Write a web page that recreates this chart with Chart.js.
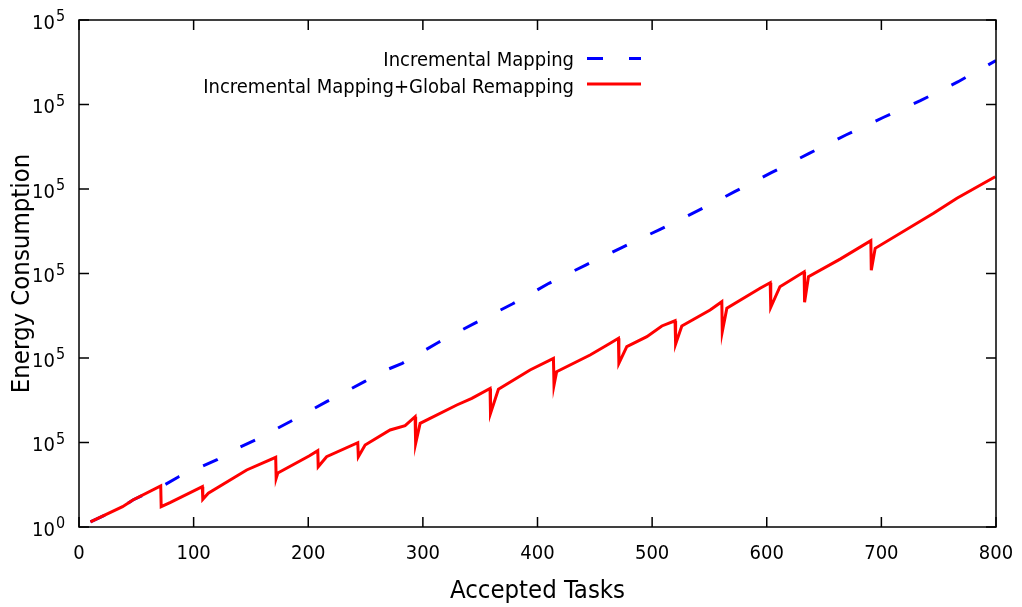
<!DOCTYPE html>
<html>
<head>
<meta charset="utf-8">
<title>Energy Consumption</title>
<script src="https://cdn.jsdelivr.net/npm/chart.js@4"></script>
<style>
  body { margin: 0; background: #fff; overflow: hidden; }
  #wrap { width: 1022px; height: 607px; }
</style>
</head>
<body>
<div id="wrap"><canvas id="myChart"></canvas></div>
<script>
// Data
const incTasks = [10, 38, 47, 71, 87, 108, 120, 140, 154, 184, 216, 249, 268, 282, 313, 345, 378, 410, 442, 474, 507, 540, 572, 604, 637, 669, 702, 734, 767, 800];
const incEnergy = [0.06, 0.24, 0.32, 0.47, 0.595, 0.722, 0.793, 0.943, 1.03, 1.246, 1.483, 1.72, 1.858, 1.937, 2.181, 2.41, 2.639, 2.884, 3.1, 3.31, 3.523, 3.743, 3.968, 4.193, 4.422, 4.639, 4.849, 5.045, 5.27, 5.52];

const remapTasks = [10, 38, 47, 71.3, 71.7, 79.4, 107.6, 108, 112.8, 146.3, 171.6, 172, 173.5, 200.7, 208.3, 208.7, 216, 243.2, 243.7, 249.6, 271.4, 284.5, 293.2, 293.7, 297.6, 329.6, 342.7, 358.6, 359, 365.9, 393.5, 413.9, 414.4, 416.7, 445.9, 463.4, 470.6, 471, 477.9, 495.4, 508.5, 520, 520.5, 525.9, 550.6, 560.8, 561.2, 565.2, 594.2, 603, 603.5, 611.5, 632.6, 633, 636.4, 664, 690.8, 691.2, 694.6, 745.5, 765.9, 799.3];
const remapEnergy = [0.06, 0.24, 0.32, 0.485, 0.24, 0.288, 0.477, 0.328, 0.4, 0.675, 0.825, 0.576, 0.64, 0.84, 0.903, 0.714, 0.832, 0.998, 0.832, 0.97, 1.148, 1.2, 1.305, 0.99, 1.227, 1.444, 1.523, 1.64, 1.345, 1.63, 1.858, 1.996, 1.68, 1.838, 2.035, 2.174, 2.233, 1.937, 2.134, 2.252, 2.379, 2.441, 2.166, 2.379, 2.568, 2.666, 2.311, 2.588, 2.825, 2.89, 2.6, 2.844, 3.02, 2.66, 2.962, 3.17, 3.388, 3.04, 3.298, 3.712, 3.89, 4.145];

const xTicks = [0, 100, 200, 300, 400, 500, 600, 700, 800];
const yTicks = [0, 1, 2, 3, 4, 5, 6];
const yExponents = ["0", "5", "5", "5", "5", "5", "5"];

const FONT = "'DejaVu Sans Condensed', 'DejaVu Sans', sans-serif";

const toPoints = (xs, ys) => xs.map((x, i) => ({ x: x, y: ys[i] }));

// box, inward ticks, y labels and the key
const decorations = {
  id: "decorations",
  afterDraw(chart) {
    const { ctx, chartArea: a, scales } = chart;
    const xs = scales.x;
    const ys = scales.y;
    ctx.save();
    ctx.strokeStyle = "#000";
    ctx.lineWidth = 1.5;
    ctx.strokeRect(a.left, a.top, a.right - a.left, a.bottom - a.top);

    ctx.beginPath();
    xTicks.forEach((t) => {
      const px = xs.getPixelForValue(t);
      ctx.moveTo(px, a.bottom);
      ctx.lineTo(px, a.bottom - 10);
      ctx.moveTo(px, a.top);
      ctx.lineTo(px, a.top + 10);
    });
    yTicks.forEach((t) => {
      const py = ys.getPixelForValue(t);
      ctx.moveTo(a.left, py);
      ctx.lineTo(a.left + 10, py);
      ctx.moveTo(a.right, py);
      ctx.lineTo(a.right - 10, py);
    });
    ctx.stroke();

    // y tick labels: 10 with superscript
    ctx.fillStyle = "#000";
    ctx.textBaseline = "alphabetic";
    yTicks.forEach((t, i) => {
      const py = ys.getPixelForValue(t);
      ctx.font = "20px " + FONT;
      ctx.textAlign = "right";
      ctx.fillText("10", 55, py + 8.5);
      ctx.font = "16px " + FONT;
      ctx.textAlign = "left";
      ctx.fillText(yExponents[i], 56, py + 1);
    });

    // key
    ctx.font = "20px " + FONT;
    ctx.textAlign = "right";
    ctx.fillText("Incremental Mapping", 574, 66);
    ctx.fillText("Incremental Mapping+Global Remapping", 574, 92.5);

    ctx.lineWidth = 3;
    ctx.strokeStyle = "#0000ff";
    ctx.setLineDash([16, 26]);
    ctx.beginPath();
    ctx.moveTo(587, 58.5);
    ctx.lineTo(641, 58.5);
    ctx.stroke();

    ctx.strokeStyle = "#ff0000";
    ctx.setLineDash([]);
    ctx.beginPath();
    ctx.moveTo(587, 84);
    ctx.lineTo(641, 84);
    ctx.stroke();
    ctx.restore();
  },
};

const ctx = document.getElementById("myChart");

new Chart(ctx, {
  type: "line",
  data: {
    datasets: [
      {
        label: "Incremental Mapping",
        data: toPoints(incTasks, incEnergy),
        borderColor: "#0000ff",
        borderWidth: 3,
        borderDash: [16, 26],
        pointRadius: 0,
        tension: 0,
        fill: false,
        order: 1,
      },
      {
        label: "Incremental Mapping+Global Remapping",
        data: toPoints(remapTasks, remapEnergy),
        borderColor: "#ff0000",
        borderWidth: 3,
        pointRadius: 0,
        tension: 0,
        fill: false,
        order: 0,
      },
    ],
  },
  options: {
    responsive: true,
    maintainAspectRatio: false,
    animation: false,
    layout: {
      padding: { top: 20, right: 26, left: 0, bottom: 0 },
    },
    plugins: {
      legend: { display: false },
      tooltip: { enabled: false },
    },
    scales: {
      x: {
        type: "linear",
        min: 0,
        max: 800,
        afterFit: (scale) => {
          scale.height = 80;
          scale.paddingLeft = 0;
          scale.paddingRight = 0;
        },
        grid: { display: false, drawTicks: false },
        border: { display: false },
        ticks: {
          stepSize: 100,
          padding: 15,
          color: "#000",
          font: { family: FONT, size: 20 },
          maxRotation: 0,
        },
        title: {
          display: true,
          text: "Accepted Tasks",
          color: "#000",
          font: { family: FONT, size: 25.5 },
          padding: { top: 0, bottom: 0 },
        },
      },
      y: {
        type: "linear",
        min: 0,
        max: 6,
        afterFit: (scale) => {
          scale.width = 79;
          scale.paddingTop = 0;
          scale.paddingBottom = 0;
        },
        grid: { display: false, drawTicks: false },
        border: { display: false },
        ticks: {
          stepSize: 1,
          display: false,
        },
        title: {
          display: true,
          text: "Energy Consumption",
          color: "#000",
          font: { family: FONT, size: 25.5 },
          padding: { top: 7, bottom: 0 },
        },
      },
    },
  },
  plugins: [decorations],
});
</script>
</body>
</html>
